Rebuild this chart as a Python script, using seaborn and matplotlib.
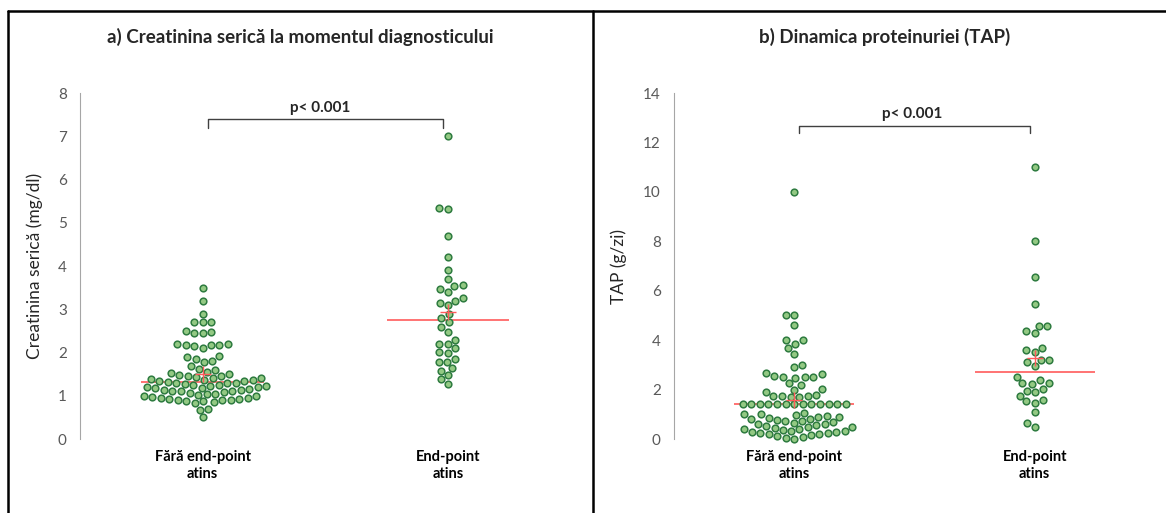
import numpy as np
import pandas as pd
import matplotlib
matplotlib.use("Agg")
import matplotlib.pyplot as plt
from matplotlib.lines import Line2D
import seaborn as sns

# Groups (x axis)
grupe = ["Fără end-point\natins", "End-point\natins"]

# a) Serum creatinine at diagnosis (mg/dl)
creat_fara = [3.5, 3.2, 2.9, 2.7, 2.7, 2.7, 2.5, 2.48, 2.45, 2.44,
              2.2, 2.2, 2.18, 2.17, 2.17, 2.15, 2.1, 1.92, 1.9, 1.85,
              1.8, 1.78, 1.68, 1.62, 1.6,
              1.55, 1.52, 1.5, 1.49, 1.46, 1.45, 1.43, 1.41, 1.4, 1.38,
              1.37, 1.36, 1.34, 1.33, 1.32, 1.3, 1.3, 1.29, 1.27, 1.26,
              1.24, 1.23, 1.22, 1.2, 1.2, 1.19, 1.17, 1.16, 1.14, 1.13,
              1.12, 1.1, 1.1, 1.09, 1.07, 1.05, 1.04, 1.02, 1.0, 1.0,
              0.98, 0.96, 0.95, 0.93, 0.92, 0.91, 0.9, 0.9, 0.88, 0.87,
              0.85, 0.83, 0.7, 0.68, 0.5]
creat_end = [7.0, 5.35, 5.31, 4.69, 4.21, 3.9, 3.7, 3.55, 3.53, 3.47,
             3.4, 3.26, 3.2, 3.15, 3.09, 2.9, 2.8, 2.7, 2.6, 2.48,
             2.3, 2.2, 2.19, 2.1, 2.01, 2.0, 1.85, 1.79, 1.79, 1.64,
             1.58, 1.48, 1.38, 1.27]

# b) Proteinuria (TAP, g/zi)
tap_fara = [10.0, 5.0, 5.02, 4.6, 4.0, 4.02, 3.85, 3.68, 3.45, 3.0,
            2.9, 2.68, 2.62, 2.56, 2.5, 2.5, 2.52, 2.46, 2.25, 2.2,
            2.01, 2.0, 1.92, 1.78, 1.76, 1.75, 1.74, 1.72, 1.7,
            1.4, 1.4, 1.4, 1.4, 1.4, 1.4, 1.4, 1.4, 1.4, 1.4,
            1.4, 1.4, 1.4,
            1.05, 1.02, 1.0, 0.97, 0.94, 0.9, 0.88, 0.85, 0.82, 0.8,
            0.77, 0.74, 0.72, 0.68, 0.65, 0.62, 0.6, 0.56, 0.52, 0.5,
            0.47, 0.45, 0.42, 0.4, 0.37, 0.34, 0.31, 0.3, 0.28, 0.25,
            0.24, 0.22, 0.2, 0.16, 0.12, 0.08, 0.04, 0.0]
tap_end = [11.0, 8.0, 6.54, 5.46, 4.59, 4.59, 4.37, 4.3, 3.67, 3.6,
           3.51, 3.2, 3.2, 3.1, 2.97, 2.49, 2.39, 2.25, 2.25, 2.21,
           2.01, 1.96, 1.89, 1.75, 1.58, 1.52, 1.47, 1.08, 0.64, 0.47]

face = "#93c983"
edge = "#2e7b40"
red = "#ff5b5b"
grey_txt = "#595959"
axis_grey = "#a6a6a6"

sns.set_style("white")
plt.rcParams['font.family'] = ['Lato', 'DejaVu Sans']

fig = plt.figure(figsize=(11.66, 5.13), dpi=100)
ax_a = fig.add_axes([0.0686, 0.1442, 0.4207, 0.6745])
ax_b = fig.add_axes([0.578, 0.1442, 0.4125, 0.6745])

panels = [
    (ax_a, creat_fara, creat_end, (0, 8), 1, "Creatinina serică (mg/dl)", -0.0755,
     (7.19, 7.40, 7.65, 0.48)),
    (ax_b, tap_fara, tap_end, (0, 14), 2, "TAP (g/zi)", -0.0977,
     (12.38, 12.67, 13.15, 0.49)),
]

for ax, v0, v1, ylim, step, ylab, lab_x, br in panels:
    df = pd.DataFrame({
        "grup": [grupe[0]] * len(v0) + [grupe[1]] * len(v1),
        "val": v0 + v1,
    })
    sns.swarmplot(data=df, x="grup", y="val", order=grupe, ax=ax,
                  color=face, edgecolor=edge, linewidth=1.1, size=4.8)
    # median line + mean cross
    sns.boxplot(data=df, x="grup", y="val", order=grupe, ax=ax, width=0.5,
                showbox=False, showcaps=False, showfliers=False,
                whiskerprops={"visible": False},
                medianprops={"color": red, "linewidth": 1.2},
                showmeans=True,
                meanprops={"marker": "+", "markeredgecolor": red,
                           "markersize": 11, "markeredgewidth": 1.0})
    for coll in ax.collections:
        coll.set_clip_on(False)
    for ln in ax.lines:
        ln.set_zorder(5 if ln.get_marker() == "+" else 0.5)

    ax.set_xlim(-0.5, 1.5)
    ax.set_ylim(*ylim)
    ax.set_yticks(np.arange(ylim[0], ylim[1] + step, step))
    sns.despine(ax=ax, bottom=True)
    ax.spines["left"].set_color(axis_grey)
    ax.tick_params(axis="y", direction="inout", length=11, color=axis_grey,
                   labelsize=11, labelcolor=grey_txt, pad=4)
    ax.tick_params(axis="x", length=0, pad=8)
    for lab in ax.get_xticklabels():
        lab.set_fontweight("bold")
        lab.set_fontsize(10.5)
        lab.set_color("#000000")
        lab.set_linespacing(1.3)
    ax.set_xlabel("")
    ax.set_ylabel(ylab, fontsize=12.5, color="#262626")
    ax.yaxis.set_label_coords(lab_x, 0.5)

    # significance bracket
    y_lo, y_hi, y_txt, x_txt = br
    ax.plot([0.02, 0.02, 0.98, 0.98], [y_lo, y_hi, y_hi, y_lo],
            color="#404040", lw=1, clip_on=False)
    ax.text(x_txt, y_txt, "p< 0.001", ha="center", va="center",
            fontsize=11, fontweight="bold")

fig.text(300 / 1166, 1 - 37 / 513, "a) Creatinina serică la momentul diagnosticului",
         ha="center", va="center", fontsize=13.5, fontweight="bold")
fig.text(885 / 1166, 1 - 37 / 513, "b) Dinamica proteinuriei (TAP)",
         ha="center", va="center", fontsize=13.5, fontweight="bold")

# panel frames
top = 1 - 11 / 513
fig.add_artist(Line2D([7.5 / 1166, 1.0], [top, top], color="black", lw=1.8,
                      transform=fig.transFigure))
fig.add_artist(Line2D([7.5 / 1166, 7.5 / 1166], [0, top], color="black", lw=1.8,
                      transform=fig.transFigure))
fig.add_artist(Line2D([593 / 1166, 593 / 1166], [0, top], color="black", lw=1.8,
                      transform=fig.transFigure))

fig.savefig("out.png", dpi=100)
